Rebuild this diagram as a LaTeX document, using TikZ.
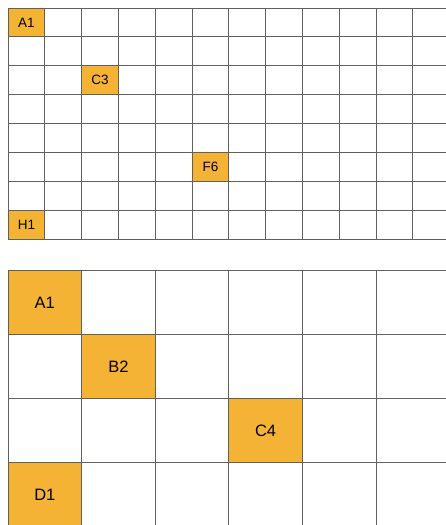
\documentclass[tikz,border=0pt]{standalone}
\usepackage{fontspec}
\setmainfont{Liberation Sans}
\definecolor{cellorange}{HTML}{F5B335}
\definecolor{gridgray}{HTML}{606060}
\begin{document}
\begin{tikzpicture}[x=1pt,y=-1pt,
  gridline/.style={draw=gridgray,line width=1pt},
  smallcell/.style={fill=cellorange,minimum width=36.8pt,minimum height=28.9pt,inner sep=0pt,font=\fontsize{13.5}{15}\selectfont},
  bigcell/.style={fill=cellorange,minimum width=73.6pt,minimum height=64pt,inner sep=0pt,font=\fontsize{16.5}{19}\selectfont}]
\useasboundingbox (0,0) rectangle (446,525);
\clip (0,0) rectangle (446,525);
% top grid cells
\node[smallcell] (tA1) at ({8+0.5*36.8},{8+0.5*28.9}) {A1};
\node[smallcell] (tC3) at ({8+2.5*36.8},{8+2.5*28.9}) {C3};
\node[smallcell] (tF6) at ({8+5.5*36.8},{8+5.5*28.9}) {F6};
\node[smallcell] (tH1) at ({8+0.5*36.8},{8+7.5*28.9}) {H1};
% bottom grid cells
\node[bigcell] (bA1) at ({8+0.5*73.6},{270.5+0.5*64}) {A1};
\node[bigcell] (bB2) at ({8+1.5*73.6},{270.5+1.5*64}) {B2};
\node[bigcell] (bC4) at ({8+3.5*73.6},{270.5+2.5*64}) {C4};
\node[bigcell] (bD1) at ({8+0.5*73.6},{270.5+3.5*64}) {D1};
% top grid lines
\foreach \i in {0,...,12} \draw[gridline] ({8+\i*36.8},8) -- ({8+\i*36.8},{8+8*28.9});
\foreach \j in {0,...,8} \draw[gridline] (8,{8+\j*28.9}) -- (460,{8+\j*28.9});
% bottom grid lines
\foreach \i in {0,...,6} \draw[gridline] ({8+\i*73.6},270.5) -- ({8+\i*73.6},540);
\foreach \j in {0,...,4} \draw[gridline] (8,{270.5+\j*64}) -- (460,{270.5+\j*64});
\end{tikzpicture}
\end{document}
